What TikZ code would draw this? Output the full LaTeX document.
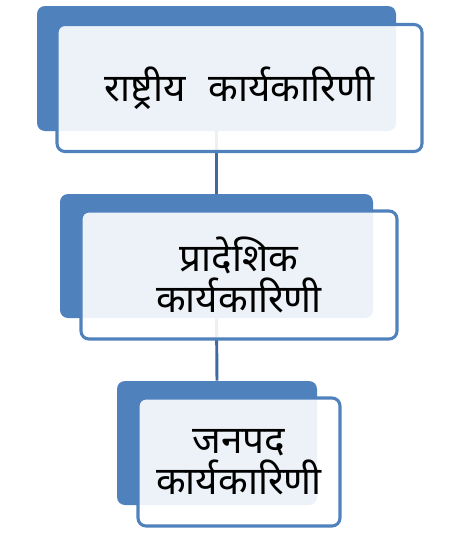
\documentclass[tikz,border=0pt]{standalone}
\usepackage{fontspec}
\newfontfamily\devfont[Script=Devanagari]{Noto Sans}
\usepackage{xcolor}
\usepackage{tikz}
\usetikzlibrary{positioning,calc}

\definecolor{boxblue}{RGB}{79,129,189}
\definecolor{linkblue}{RGB}{65,105,160}

\begin{document}
\begin{tikzpicture}[x=0.75pt,y=-0.75pt,
    backbox/.style={fill=boxblue, rounded corners=6pt, inner sep=0pt},
    frontbox/.style={draw=boxblue, line width=2.3pt, fill=white, fill opacity=0.9, text opacity=1,
        rounded corners=6pt, inner sep=0pt, align=center,
        font=\devfont\fontsize{29}{31}\selectfont},
    link/.style={draw=linkblue, line width=2.2pt}]
    \useasboundingbox (0,0) rectangle (456,533);

    % Back panels
    \node[backbox, minimum width=269.25pt, minimum height=93.75pt] (back1) at (216.5,68.5) {};
    \node[backbox, minimum width=234.75pt, minimum height=93pt] (back2) at (216.5,256) {};
    \node[backbox, minimum width=150pt, minimum height=93pt] (back3) at (217,443) {};

    % Links
    \draw[link] (back1.south) -- (back2.north);
    \draw[link] (back2.south) -- (back3.north);

    % Front panels
    \node[frontbox, minimum width=273.75pt, minimum height=95.25pt] (nat) at (239.5,88) {राष्ट्रीय\hspace{0.6em}कार्यकारिणी};
    \node[frontbox, minimum width=237pt, minimum height=96pt] (state) at (239,275) {प्रादेशिक\\कार्यकारिणी};
    \node[frontbox, minimum width=151.5pt, minimum height=96pt] (dist) at (239,462) {जनपद\\कार्यकारिणी};
\end{tikzpicture}
\end{document}
